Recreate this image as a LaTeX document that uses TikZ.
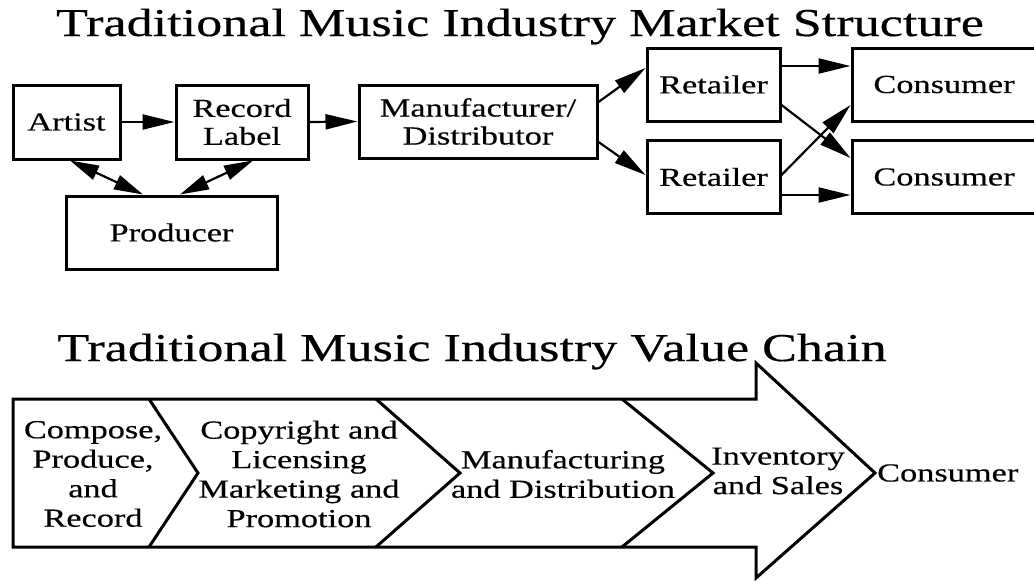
\documentclass[tikz,border=0pt]{standalone}
\usepackage{fontspec}
\setmainfont[FakeStretch=1.32,FakeBold=0.4]{Liberation Serif}
\usetikzlibrary{arrows.meta}
\begin{document}
\begin{tikzpicture}[x=1pt,y=-1pt,
  box/.style={draw, line width=3pt, inner sep=0pt, align=center,
    font=\fontsize{26}{28}\selectfont},
  arr/.style={line width=2.2pt, -{Triangle[length=32pt,width=15pt]}},
  darr/.style={line width=2.2pt, {Triangle[length=29pt,width=15pt]}-{Triangle[length=29pt,width=15pt]}},
  ttl/.style={anchor=base, inner sep=0pt, font=\fontsize{39.5}{42}\selectfont},
  lbl/.style={inner sep=0pt, align=center, font=\fontsize{26}{29.5}\selectfont},
  chev/.style={line width=3pt, line join=miter}
]
\clip (0,0) rectangle (1034,581);
\fill[white] (0,0) rectangle (1034,581);

% ---- Titles
\node[ttl] (t1) at (520,36) {Traditional Music Industry Market Structure};
\node[ttl] (t2) at (472,361) {Traditional Music Industry Value Chain};

% ---- Market structure boxes
\node[box, minimum width=107pt, minimum height=74pt] (artist) at (66.5,122) {Artist};
\node[box, minimum width=132pt, minimum height=74pt] (rec) at (242,122) {Record\\Label};
\node[box, minimum width=238pt, minimum height=73pt] (man) at (478,121.5) {Manufacturer/\\Distributor};
\node[box, minimum width=133pt, minimum height=73pt] (ret1) at (713.5,84.5) {Retailer};
\node[box, minimum width=133pt, minimum height=73pt] (ret2) at (713.5,177) {Retailer};
\node[box, minimum width=184pt, minimum height=73pt] (con1) at (944,84.5) {Consumer};
\node[box, minimum width=184pt, minimum height=73pt] (con2) at (944,177) {Consumer};
\node[box, minimum width=211pt, minimum height=73pt] (prod) at (171.5,232.5) {Producer};

% ---- Connectors
\draw[arr] (artist.east) -- (rec.west);
\draw[arr] (rec.east) -- (man.west);
\draw[arr] ([yshift=19.5pt]man.east) -- ([yshift=16.5pt]ret1.west);
\draw[arr] ([yshift=-20.5pt]man.east) -- ([yshift=2pt]ret2.west);
\draw[arr] ([yshift=18.5pt]ret1.east) -- ([yshift=18.5pt]con1.west);
\draw[arr] ([yshift=-20.5pt]ret1.east) -- ([yshift=19pt]con2.west);
\draw[arr] ([yshift=2pt]ret2.east) -- ([yshift=-20.5pt]con1.west);
\draw[arr] ([yshift=-18pt]ret2.east) -- ([yshift=-18pt]con2.west);
\draw[darr] ([xshift=3.5pt]artist.south) -- ([xshift=-28.5pt]prod.north);
\draw[darr] ([xshift=8.5pt]prod.north) -- ([xshift=11pt]rec.south);

% ---- Value chain arrow
\draw[chev] (13,399) -- (756,399) -- (756,363) -- (875,473) -- (756,578)
  -- (756,547) -- (13,547) -- cycle;
\draw[chev] (149,399) -- (198,473) -- (149,547);
\draw[chev] (376,399) -- (460,473) -- (376,547);
\draw[chev] (622,399) -- (713,473) -- (622,547);

\node[lbl] (s1) at (93,474) {Compose,\\Produce,\\and\\Record};
\node[lbl] (s2) at (299,474) {Copyright and\\Licensing\\Marketing and\\Promotion};
\node[lbl] (s3) at (563,474) {Manufacturing\\and Distribution};
\node[lbl] (s4) at (778,471) {Inventory\\and Sales};
\node[lbl, anchor=west] (s5) at (877,473) {Consumer};
\end{tikzpicture}
\end{document}
